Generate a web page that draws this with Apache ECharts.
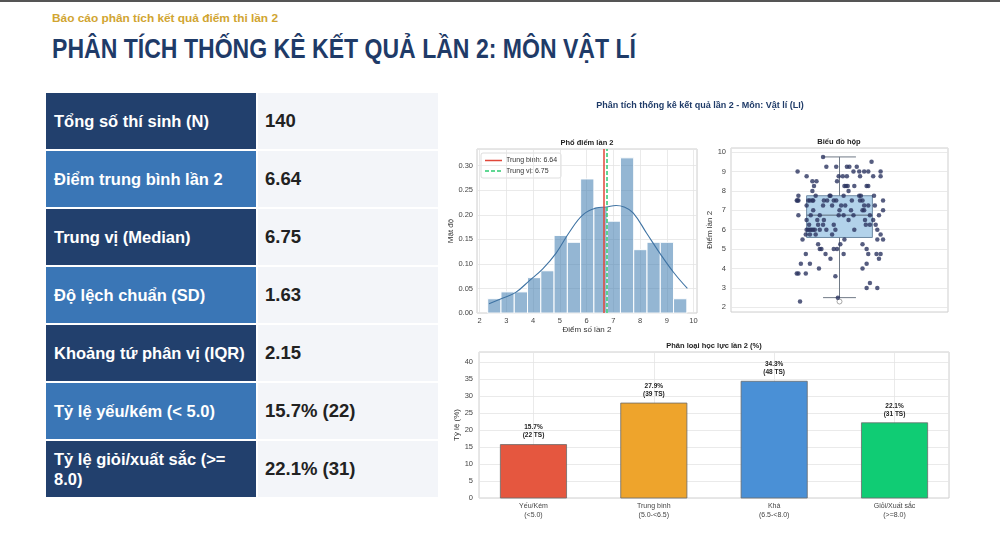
<!DOCTYPE html>
<html><head><meta charset="utf-8">
<script src="https://cdn.jsdelivr.net/npm/echarts@6/dist/echarts.min.js"></script>
<style>
html,body{margin:0;padding:0;background:#fff;width:1000px;height:544px;overflow:hidden;font-family:"Liberation Sans",Arial,sans-serif;}
#topbar{position:absolute;left:0;top:0;width:1000px;height:2px;background:#555;}
#sub{position:absolute;left:52px;top:12px;font-size:11.5px;font-weight:bold;color:#d1a531;white-space:nowrap;display:inline-block;}
#title{position:absolute;left:52px;top:34px;font-size:27px;font-weight:bold;color:#1f3b68;white-space:nowrap;display:inline-block;font-family:"Liberation Sans",Arial,sans-serif;}
#tbl{position:absolute;left:46px;top:93px;}
.row{display:flex;height:56px;margin-bottom:2px;}
.lab{width:210px;color:#fff;font-weight:bold;font-size:16.5px;display:flex;align-items:center;padding-left:8px;padding-right:4px;box-sizing:border-box;line-height:20px;}
.val{width:180px;margin-left:2px;background:#f3f5f9;font-weight:bold;font-size:18.5px;color:#222;display:flex;align-items:center;padding-left:7px;box-sizing:border-box;}
.dark{background:#22406d;}.mid{background:#3a76b6;}
#chart{position:absolute;left:0;top:0;width:1000px;height:544px;}
</style></head>
<body>
<div id="topbar"></div>
<div id="sub">Báo cáo phân tích kết quả điểm thi lần 2</div>
<div id="title">PHÂN TÍCH THỐNG KÊ KẾT QUẢ LẦN 2: MÔN VẬT LÍ</div>
<div id="tbl"></div>
<div id="chart"></div>
<script>
// ---------- data ----------
const tableLabels = ["Tổng số thí sinh (N)", "Điểm trung bình lần 2", "Trung vị (Median)", "Độ lệch chuẩn (SD)", "Khoảng tứ phân vị (IQR)", "Tỷ lệ yếu/kém (< 5.0)", "Tỷ lệ giỏi/xuất sắc (>= 8.0)"];
const tableValues = ["140", "6.64", "6.75", "1.63", "2.15", "15.7% (22)", "22.1% (31)"];

const histEdges = [2.30, 2.797, 3.293, 3.79, 4.287, 4.783, 5.28, 5.777, 6.273, 6.77, 7.267, 7.763, 8.26, 8.757, 9.253, 9.75];
const histDensity = [0.029, 0.043, 0.043, 0.072, 0.086, 0.158, 0.144, 0.273, 0.216, 0.187, 0.316, 0.129, 0.144, 0.144, 0.029];
const kdeX = [2.35, 2.85, 3.35, 3.86, 4.36, 4.86, 5.36, 5.86, 6.36, 6.74, 7.1, 7.4, 7.74, 8.24, 8.75, 9.25, 9.77];
const kdeY = [0.019, 0.030, 0.042, 0.066, 0.090, 0.122, 0.165, 0.200, 0.214, 0.216, 0.219, 0.216, 0.204, 0.163, 0.121, 0.083, 0.050];
const meanScore = 6.64;
const medianScore = 6.75;
const legendLabels = ["Trung bình: 6.64", "Trung vị: 6.75"];

const boxStats = [2.5, 5.6, 6.75, 7.75, 9.75];
const boxOutliers = [2.3];
const stripY = [
  9.75, 9.5,
  9.25, 9.25, 9.25, 9.25, 9.25,
  9.0, 9.0, 9.0, 9.0, 9.0, 9.0,
  8.75, 8.75, 8.75, 8.75, 8.75, 8.75, 8.75,
  8.5, 8.5, 8.5,
  8.25, 8.25, 8.25, 8.25, 8.25, 8.25, 8.25,
  8.0, 8.0,
  7.75, 7.75, 7.75, 7.75, 7.75, 7.75, 7.75, 7.75,
  7.5, 7.5, 7.5, 7.5, 7.5, 7.5, 7.5, 7.5, 7.5, 7.5, 7.5, 7.5, 7.5, 7.5, 7.5,
  7.25, 7.25, 7.25, 7.25, 7.25, 7.25, 7.25, 7.25,
  7.0, 7.0, 7.0, 7.0, 7.0, 7.0,
  6.75, 6.75, 6.75, 6.75, 6.75, 6.75, 6.75, 6.75,
  6.5, 6.5, 6.5, 6.5, 6.5, 6.5,
  6.25, 6.25, 6.25, 6.25, 6.25, 6.25, 6.25,
  6.0, 6.0, 6.0, 6.0, 6.0, 6.0, 6.0, 6.0, 6.0, 6.0, 6.0,
  5.75, 5.75, 5.75, 5.75, 5.75,
  5.5, 5.5, 5.5, 5.5,
  5.25, 5.25, 5.25,
  5.0, 5.0, 5.0, 5.0, 5.0,
  4.75, 4.75, 4.75, 4.75, 4.75, 4.75,
  4.5, 4.5,
  4.25, 4.25, 4.25,
  4.0, 4.0,
  3.75, 3.75, 3.75,
  3.6, 3.25, 3.0, 3.0, 2.5, 2.3
];
const stripX = [
  -0.20, 0.39,
  -0.16, -0.04, 0.09, 0.12, 0.21,
  -0.51, 0.17, 0.24, 0.30, 0.50, 0.35,
  -0.40, -0.01, 0.04, 0.09, 0.25, 0.41, 0.50,
  -0.33, -0.28, -0.03,
  -0.31, 0.06, 0.08, 0.10, 0.18, 0.33, 0.35,
  -0.33, 0.11,
  -0.50, -0.29, -0.12, -0.11, 0.05, 0.24, 0.26, 0.42,
  -0.52, -0.51, -0.50, -0.38, -0.36, -0.33, -0.32, -0.19, -0.15, -0.07, -0.04, 0.15, 0.25, 0.28, 0.53,
  -0.40, -0.20, -0.09, 0.02, 0.07, 0.30, 0.35, 0.43,
  -0.32, 0.00, 0.14, 0.28, 0.30, 0.53,
  -0.50, -0.35, -0.24, -0.01, 0.05, 0.17, 0.37, 0.48,
  -0.40, -0.27, -0.19, 0.11, 0.31, 0.41,
  -0.37, -0.26, -0.20, -0.07, 0.32, 0.37, 0.44,
  -0.40, -0.38, -0.36, -0.34, -0.32, -0.30, -0.24, -0.16, -0.05, 0.18, 0.46,
  -0.41, -0.36, -0.29, -0.09, 0.50,
  -0.45, 0.06, 0.46, 0.53,
  -0.26, 0.01, 0.28,
  -0.24, -0.22, -0.07, -0.03, 0.33,
  -0.41, -0.17, 0.05, 0.45, 0.50, 0.35,
  -0.11, 0.48,
  -0.47, -0.36, 0.33,
  -0.25, 0.28,
  -0.52, -0.50, -0.41,
  -0.05, 0.37, 0.33, 0.46, -0.02, -0.48
];

const gradeCats = ["Yếu/Kém\n(<5.0)", "Trung bình\n(5.0-<6.5)", "Khá\n(6.5-<8.0)", "Giỏi/Xuất sắc\n(>=8.0)"];
const gradePct = [15.7, 27.9, 34.3, 22.1];
const gradeCount = [22, 39, 48, 31];

// ---------- styles ----------
const gradeColors = ["#e5573f", "#eea42c", "#4a90d6", "#10cc74"];
const FONT = '"Liberation Sans", Arial, sans-serif';
const tickLabel = { fontSize: 7.5, color: '#444', fontFamily: FONT };
const gridLine = { show: true, lineStyle: { color: '#e4e4e4', width: 0.8 } };
const frame = { show: true, borderColor: '#cfcfcf', borderWidth: 1, backgroundColor: 'transparent' };

// ---------- header text fitting ----------
function fitWidth(id, w) {
  const el = document.getElementById(id);
  const cur = el.getBoundingClientRect().width;
  el.style.transformOrigin = '0 50%';
  el.style.transform = 'scaleX(' + (w / cur) + ')';
}
fitWidth('title', 584);
fitWidth('sub', 226);

// ---------- table ----------
const tbl = document.getElementById('tbl');
tableLabels.forEach((lab, i) => {
  const row = document.createElement('div');
  row.className = 'row';
  const a = document.createElement('div');
  a.className = 'lab ' + (i % 2 === 0 ? 'dark' : 'mid');
  a.textContent = lab;
  const b = document.createElement('div');
  b.className = 'val';
  b.textContent = tableValues[i];
  row.appendChild(a); row.appendChild(b);
  tbl.appendChild(row);
});

// ---------- chart ----------
function isMult(v, step) { return Math.abs(v / step - Math.round(v / step)) < 1e-6; }

const chart = echarts.init(document.getElementById('chart'));
const histData = histDensity.map((d, i) => [histEdges[i], histEdges[i + 1], d]);
const stripData = stripX.map((x, i) => [x, stripY[i]]);
const gradeData = gradePct.map((p, i) => [i, p, gradeCount[i]]);

const option = {
  animation: false,
  textStyle: { fontFamily: FONT },
  graphic: [
    { type: 'text', x: 700, y: 106, style: { text: 'Phân tích thống kê kết quả lần 2 - Môn: Vật lí (LI)', font: 'bold 9px ' + FONT, fill: '#1f3b68', align: 'center', verticalAlign: 'middle' } },
    { type: 'text', x: 587, y: 143, style: { text: 'Phổ điểm lần 2', font: 'bold 7.5px ' + FONT, fill: '#222', align: 'center', verticalAlign: 'middle' } },
    { type: 'text', x: 839, y: 142, style: { text: 'Biểu đồ hộp', font: 'bold 7.5px ' + FONT, fill: '#222', align: 'center', verticalAlign: 'middle' } },
    { type: 'text', x: 714, y: 346, style: { text: 'Phân loại học lực lần 2 (%)', font: 'bold 7.5px ' + FONT, fill: '#222', align: 'center', verticalAlign: 'middle' } },
    { type: 'group', x: 481, y: 153, z: 50, children: [
      { type: 'rect', shape: { x: 0, y: 0, width: 80, height: 25, r: 2 }, style: { fill: '#ffffff', stroke: '#d6d6d6', lineWidth: 0.8 } },
      { type: 'line', shape: { x1: 4, y1: 7.5, x2: 21, y2: 7.5 }, style: { stroke: '#e0473a', lineWidth: 1.5 } },
      { type: 'text', x: 25, y: 7.5, style: { text: legendLabels[0], font: '7px ' + FONT, fill: '#333', verticalAlign: 'middle' } },
      { type: 'line', shape: { x1: 4, y1: 18, x2: 21, y2: 18 }, style: { stroke: '#2ecc71', lineWidth: 1.5, lineDash: [4, 2] } },
      { type: 'text', x: 25, y: 18, style: { text: legendLabels[1], font: '7px ' + FONT, fill: '#333', verticalAlign: 'middle' } }
    ] }
  ],
  grid: [
    Object.assign({ left: 477, top: 149, width: 220, height: 164 }, frame),
    Object.assign({ left: 731, top: 148, width: 217, height: 164 }, frame),
    Object.assign({ left: 479, top: 352, width: 470, height: 146 }, frame)
  ],
  xAxis: [
    { gridIndex: 0, type: 'value', min: 1.9, max: 10.13, minInterval: 1, maxInterval: 1, splitNumber: 8,
      axisLine: { show: false }, axisTick: { show: false }, splitLine: gridLine,
      axisLabel: Object.assign({ margin: 4, formatter: v => isMult(v, 1) ? String(v) : '' }, tickLabel),
      name: 'Điểm số lần 2', nameLocation: 'middle', nameGap: 11, nameTextStyle: { fontSize: 8, color: '#333' } },
    { gridIndex: 1, type: 'value', min: -1.32, max: 1.32, show: true,
      axisLine: { show: false }, axisTick: { show: false }, axisLabel: { show: false }, splitLine: { show: false } },
    { gridIndex: 2, type: 'value', min: -0.4525, max: 3.4525, minInterval: 1, maxInterval: 1, splitNumber: 4,
      axisLine: { show: false }, axisTick: { show: false }, splitLine: gridLine,
      axisLabel: Object.assign({ margin: 4, lineHeight: 9, formatter: v => (isMult(v, 1) && v >= 0 && v < gradeCats.length) ? gradeCats[Math.round(v)] : '' }, tickLabel, { fontSize: 7 }) }
  ],
  yAxis: [
    { gridIndex: 0, type: 'value', min: 0, max: 0.334, minInterval: 0.05, maxInterval: 0.05, splitNumber: 7,
      axisLine: { show: false }, axisTick: { show: false }, splitLine: gridLine,
      axisLabel: Object.assign({ margin: 4, formatter: v => isMult(v, 0.05) ? v.toFixed(2) : '' }, tickLabel),
      name: 'Mật độ', nameLocation: 'middle', nameGap: 21, nameTextStyle: { fontSize: 8, color: '#333' } },
    { gridIndex: 1, type: 'value', min: 1.76, max: 10.21, minInterval: 1, maxInterval: 1, splitNumber: 8,
      axisLine: { show: false }, axisTick: { show: false }, splitLine: gridLine,
      axisLabel: Object.assign({ margin: 5, formatter: v => isMult(v, 1) ? String(v) : '' }, tickLabel),
      name: 'Điểm lần 2', nameLocation: 'middle', nameGap: 17, nameTextStyle: { fontSize: 8, color: '#333' } },
    { gridIndex: 2, type: 'value', min: 0, max: 42.9, minInterval: 5, maxInterval: 5, splitNumber: 8,
      axisLine: { show: false }, axisTick: { show: false }, splitLine: gridLine,
      axisLabel: Object.assign({ margin: 6, formatter: v => isMult(v, 5) ? String(v) : '' }, tickLabel),
      name: 'Tỷ lệ (%)', nameLocation: 'middle', nameGap: 16, nameTextStyle: { fontSize: 8, color: '#333' } }
  ],
  series: [
    { type: 'custom', xAxisIndex: 0, yAxisIndex: 0, data: histData, z: 2,
      renderItem: (params, api) => {
        const p0 = api.coord([api.value(0), api.value(2)]);
        const p1 = api.coord([api.value(1), 0]);
        return { type: 'rect', shape: { x: p0[0], y: p0[1], width: p1[0] - p0[0], height: p1[1] - p0[1] },
          style: { fill: 'rgba(70,130,180,0.58)', stroke: '#ffffff', lineWidth: 1 } };
      } },
    { type: 'line', xAxisIndex: 0, yAxisIndex: 0, data: kdeX.map((x, i) => [x, kdeY[i]]), smooth: 0.4,
      showSymbol: false, symbol: 'none', lineStyle: { color: '#3f73a3', width: 1.1 }, z: 3 },
    { type: 'line', xAxisIndex: 0, yAxisIndex: 0, data: [], symbol: 'none',
      markLine: { silent: true, symbol: 'none', label: { show: false }, lineStyle: { color: '#e0473a', width: 1.5, type: 'solid' }, data: [{ xAxis: meanScore }] } },
    { type: 'line', xAxisIndex: 0, yAxisIndex: 0, data: [], symbol: 'none',
      markLine: { silent: true, symbol: 'none', label: { show: false }, lineStyle: { color: '#2ecc71', width: 1.5, type: [4, 2] }, data: [{ xAxis: medianScore }] } },
    { type: 'custom', xAxisIndex: 1, yAxisIndex: 1, data: [boxStats], z: 2,
      renderItem: (params, api) => {
        const lo = api.value(0), q1 = api.value(1), med = api.value(2), q3 = api.value(3), hi = api.value(4);
        const a = api.coord([-0.4, q3]), b = api.coord([0.4, q1]);
        const c = api.coord([0, 0]);
        const cl = api.coord([-0.2, 0])[0], cr = api.coord([0.2, 0])[0];
        const yHi = api.coord([0, hi])[1], yLo = api.coord([0, lo])[1], yMed = api.coord([0, med])[1];
        const ls = { stroke: '#707a86', lineWidth: 1 };
        return { type: 'group', children: [
          { type: 'rect', shape: { x: a[0], y: a[1], width: b[0] - a[0], height: b[1] - a[1] }, style: { fill: '#b2d2ea', stroke: '#6f8aa3', lineWidth: 1 } },
          { type: 'line', shape: { x1: a[0], y1: yMed, x2: b[0], y2: yMed }, style: { stroke: '#5b6878', lineWidth: 1 } },
          { type: 'line', shape: { x1: c[0], y1: a[1], x2: c[0], y2: yHi }, style: ls },
          { type: 'line', shape: { x1: c[0], y1: b[1], x2: c[0], y2: yLo }, style: ls },
          { type: 'line', shape: { x1: cl, y1: yHi, x2: cr, y2: yHi }, style: ls },
          { type: 'line', shape: { x1: cl, y1: yLo, x2: cr, y2: yLo }, style: ls }
        ] };
      } },
    { type: 'scatter', xAxisIndex: 1, yAxisIndex: 1, data: boxOutliers.map(v => [0, v]), symbol: 'circle', symbolSize: 5,
      itemStyle: { color: '#ffffff', borderColor: '#777', borderWidth: 0.8 }, z: 3 },
    { type: 'scatter', xAxisIndex: 1, yAxisIndex: 1, data: stripData, symbolSize: 4.5,
      itemStyle: { color: '#2c3560', opacity: 0.8 }, z: 4 },
    { type: 'custom', xAxisIndex: 2, yAxisIndex: 2, data: gradeData, z: 2,
      renderItem: (params, api) => {
        const i = api.value(0), p = api.value(1), n = api.value(2);
        const a = api.coord([i - 0.275, p]), b = api.coord([i + 0.275, 0]);
        const cx = api.coord([i, p]);
        return { type: 'group', children: [
          { type: 'rect', shape: { x: a[0], y: a[1], width: b[0] - a[0], height: b[1] - a[1] },
            style: { fill: gradeColors[params.dataIndex], stroke: '#6b6b6b', lineWidth: 0.8 } },
          { type: 'text', x: cx[0], y: cx[1] - 5, style: { text: p.toFixed(1) + '%\n(' + n + ' TS)', font: 'bold 6.5px ' + FONT, fill: '#222', align: 'center', verticalAlign: 'bottom', lineHeight: 8 } }
        ] };
      } }
  ]
};
chart.setOption(option);
</script>
</body></html>
